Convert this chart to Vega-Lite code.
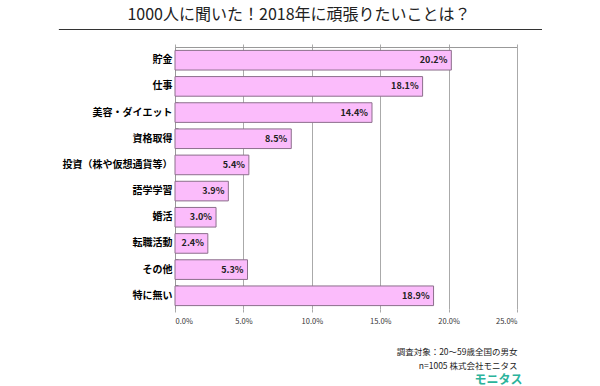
{
  "$schema": "https://vega.github.io/schema/vega-lite/v6.json",
  "padding": {"left": 58, "top": 7, "right": 5, "bottom": 5},
  "background": "white",
  "config": {
    "view": {"stroke": null},
    "font": "Noto Sans CJK JP",
    "concat": {"spacing": 13}
  },
  "data": {
    "values": [
      {"item": "貯金", "pct": 0.202},
      {"item": "仕事", "pct": 0.181},
      {"item": "美容・ダイエット", "pct": 0.144},
      {"item": "資格取得", "pct": 0.085},
      {"item": "投資（株や仮想通貨等）", "pct": 0.054},
      {"item": "語学学習", "pct": 0.039},
      {"item": "婚活", "pct": 0.030},
      {"item": "転職活動", "pct": 0.024},
      {"item": "その他", "pct": 0.053},
      {"item": "特に無い", "pct": 0.189}
    ]
  },
  "vconcat": [
    {
      "width": 342,
      "height": 1,
      "title": {
        "text": "1000人に聞いた！2018年に頑張りたいことは？",
        "fontSize": 16,
        "fontWeight": "normal",
        "color": "#222222",
        "anchor": "middle",
        "offset": 6,
        "dx": -47
      },
      "mark": {"type": "rule", "color": "#333333", "strokeWidth": 1, "clip": false},
      "encoding": {
        "x": {"datum": -0.0848, "type": "quantitative", "scale": {"domain": [0, 0.25], "nice": false}, "axis": null},
        "x2": {"datum": 0.2678}
      }
    },
    {
      "width": 342,
      "height": 262,
      "title": {
        "text": "モニタス",
        "orient": "bottom",
        "anchor": "end",
        "color": "#2bb39b",
        "fontSize": 12,
        "fontWeight": "bold",
        "offset": 5,
        "dx": 5
      },
      "resolve": {"axis": {"x": "independent"}},
      "layer": [
        {
          "mark": {"type": "bar", "fill": "#fbbcfb", "stroke": "#8c6f8c", "strokeWidth": 1},
          "encoding": {
            "y": {
              "field": "item",
              "type": "nominal",
              "sort": null,
              "scale": {"paddingInner": 0.25, "paddingOuter": 0.13},
              "axis": {
                "title": null,
                "labelFontSize": 10,
                "labelFontWeight": "bold",
                "labelColor": "#000000",
                "labelPadding": 6,
                "labelLimit": 200,
                "domainColor": "#999999",
                "tickColor": "#999999",
                "tickSize": -3,
                "bandPosition": 0
              }
            },
            "x": {
              "field": "pct",
              "type": "quantitative",
              "scale": {"domain": [0, 0.25], "nice": false},
              "axis": {
                "format": ".1%",
                "values": [0, 0.05, 0.1, 0.15, 0.2, 0.25],
                "grid": true,
                "gridColor": "#aaaaaa",
                "domain": false,
                "tickSize": 3,
                "tickColor": "#aaaaaa",
                "labelFontSize": 7.5,
                "labelColor": "#333333",
                "labelPadding": 5,
                "title": ["調査対象：20〜59歳全国の男女", "n=1005 株式会社モニタス"],
                "titleAnchor": "end",
                "titleAlign": "right",
                "titleFontSize": 8.5,
                "titleFontWeight": "normal",
                "titleColor": "#222222",
                "titlePadding": 23,
                "titleLineHeight": 14
              }
            }
          }
        },
        {
          "mark": {"type": "text", "align": "right", "dx": -4, "fontSize": 9, "fontWeight": "bold", "color": "#222222"},
          "encoding": {
            "y": {"field": "item", "type": "nominal", "sort": null},
            "x": {
              "field": "pct",
              "type": "quantitative",
              "axis": {
                "orient": "top",
                "labels": false,
                "grid": false,
                "domain": true,
                "domainColor": "#999999",
                "tickSize": 3,
                "tickColor": "#aaaaaa",
                "values": [0, 0.05, 0.1, 0.15, 0.2, 0.25],
                "title": null
              }
            },
            "text": {"field": "pct", "type": "quantitative", "format": ".1%"}
          }
        }
      ]
    }
  ]
}
